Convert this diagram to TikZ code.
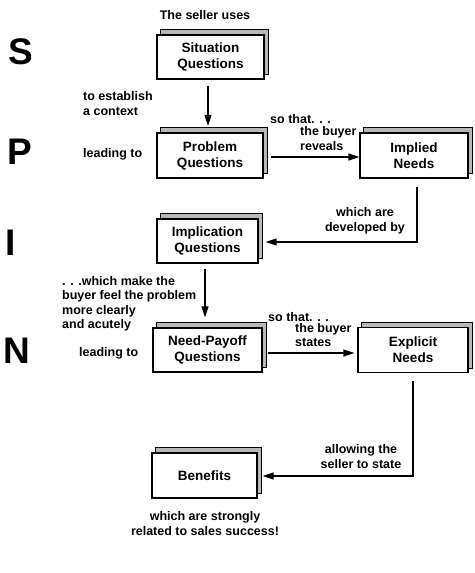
\documentclass[tikz,border=0pt]{standalone}
\usepackage{fontspec}
\setmainfont{Liberation Sans}
\usetikzlibrary{arrows.meta,calc,backgrounds}
\tikzset{
  front/.style={draw=black,line width=1.3pt,fill=white,align=center,inner sep=0pt,
    font=\fontsize{13.5}{16}\selectfont\bfseries},
  shadowfill/.style={draw=black,line width=0.6pt,fill=black!28},
  lbl/.style={inner sep=0pt,font=\fontsize{12.5}{14.5}\selectfont\bfseries},
  big/.style={inner sep=0pt,font=\fontsize{37}{40}\selectfont\bfseries},
  arr/.style={line width=1.3pt,-{Triangle[length=11pt,width=7pt]}}
}
\newcommand{\stackshadow}[1]{%
  \begin{scope}[on background layer]
    \path[shadowfill] ($(#1.south west)+(3.5,5)$) rectangle ($(#1.north east)+(3.5,5)$);
  \end{scope}}
\begin{document}
\begin{tikzpicture}[x=1pt,y=1pt]
\useasboundingbox (0,0) rectangle (474,573);
% boxes
\node[front,minimum width=107pt,minimum height=44pt] (sit) at (210.5,516) {Situation\\Questions};
\node[front,minimum width=106pt,minimum height=45pt] (prob) at (210,417.5) {Problem\\Questions};
\node[front,minimum width=108pt,minimum height=45pt] (impl) at (414,417.5) {Implied\\Needs};
\node[front,minimum width=101pt,minimum height=44pt] (implic) at (207.5,332) {Implication\\Questions};
\node[front,minimum width=109pt,minimum height=44pt] (np) at (207.5,223) {Need-Payoff\\Questions};
\node[front,minimum width=110pt,minimum height=45pt] (expl) at (413,223) {Explicit\\Needs};
\node[front,minimum width=105pt,minimum height=45pt] (ben) at (204.5,97.5) {Benefits};
\stackshadow{sit}
\stackshadow{prob}
\stackshadow{impl}
\stackshadow{implic}
\stackshadow{np}
\stackshadow{expl}
\stackshadow{ben}
% big letters
\node[big] (S) at (21,521) {S};
\node[big] (P) at (20,421) {P};
\node[big] (I) at (11,330) {I};
\node[big] (N) at (17,222) {N};
% labels
\node[lbl] (l1) at (205,558) {The seller uses};
\node[lbl,anchor=west,align=left] (l2) at (83,469.5) {to establish\\a context};
\node[lbl,anchor=west] (l3) at (83,419) {leading to};
\node[lbl,anchor=west] (l4) at (270,454) {so that. . .};
\node[lbl,anchor=west,align=left] (l5) at (300,434.5) {the buyer\\reveals};
\node[lbl,align=center] (l6) at (365,352) {which are\\developed by};
\node[lbl,anchor=west,align=left] (l7) at (62,269) {. . .which make the\\buyer feel the problem\\more clearly\\and acutely};
\node[lbl,anchor=west] (l8) at (79,220) {leading to};
\node[lbl,anchor=west] (l9) at (268,256) {so that. . .};
\node[lbl,anchor=west,align=left] (l10) at (295,238) {the buyer\\states};
\node[lbl,align=center] (l11) at (361,116.5) {allowing the\\seller to state};
\node[lbl,align=center] (l12) at (205,49.5) {which are strongly\\related to sales success!};
% connectors
\draw[arr] ($(sit.south)+(-2.5,-6)$) -- ($(prob.north)+(-2,6.5)$);
\draw[arr] ($(prob.east)+(7,-1.5)$) -- ($(impl.west)+(0,-1.5)$);
\draw[arr] ($(impl.south)+(3,-8)$) |- ($(implic.east)+(7,-1)$);
\draw[arr] ($(implic.south)+(-2.5,-5)$) -- ($(np.north)+(-2.5,10)$);
\draw[arr] ($(np.east)+(5,-3)$) -- ($(expl.west)+(-3,-3)$);
\draw[arr] ($(expl.south)+(0,-8)$) |- ($(ben.east)+(5,-0.5)$);
\end{tikzpicture}
\end{document}
